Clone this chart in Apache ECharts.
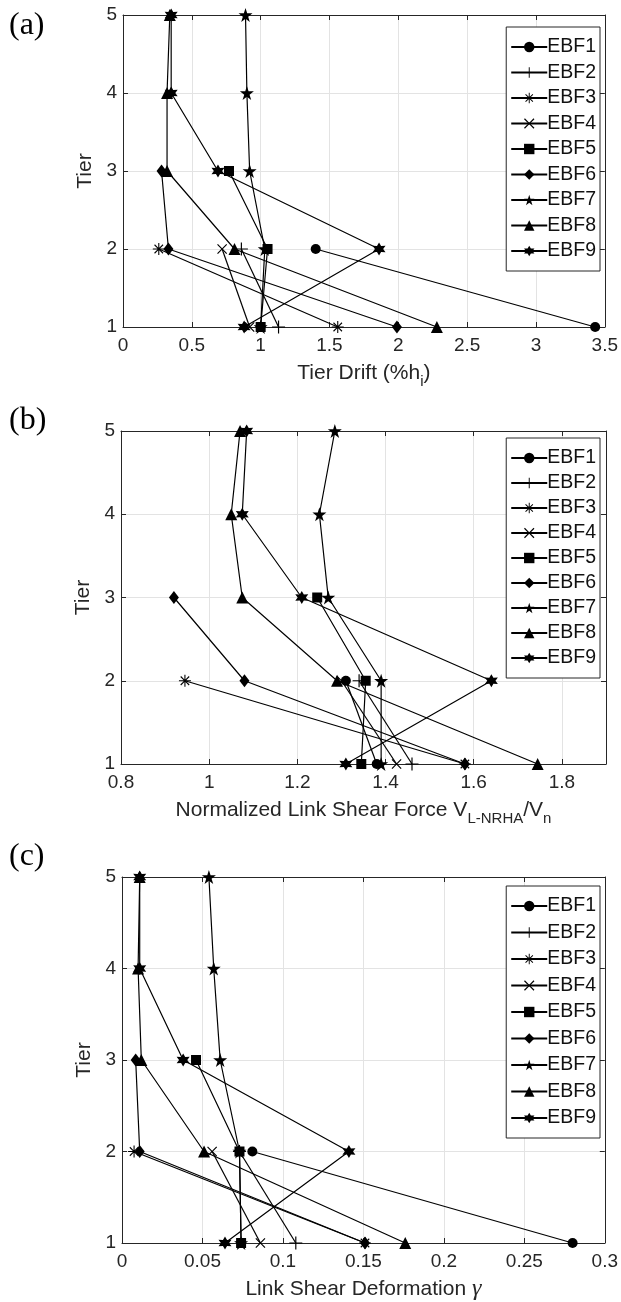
<!DOCTYPE html>
<html>
<head>
<meta charset="utf-8">
<script src="https://cdn.jsdelivr.net/npm/echarts@6/dist/echarts.min.js"></script>
<style>
  html, body { margin: 0; padding: 0; background: #fff; }
  #chart { width: 621px; height: 1302px; }
</style>
</head>
<body>
<div id="chart"></div>
<script>
// frames and tiers
const names = ['EBF1', 'EBF2', 'EBF3', 'EBF4', 'EBF5', 'EBF6', 'EBF7', 'EBF8', 'EBF9'];
const tiers = [1, 2, 3, 4, 5];

// values listed from tier 1 upward, one list per frame
const tierDrift = [
  [3.43, 1.40],
  [1.13, 0.86],
  [1.56, 0.26],
  [0.92, 0.72],
  [1.00, 1.05, 0.77],
  [1.99, 0.33, 0.28],
  [1.00, 1.03, 0.92, 0.90, 0.89],
  [2.28, 0.81, 0.32, 0.32, 0.34],
  [0.88, 1.86, 0.69, 0.35, 0.35]
];
const linkShearForce = [
  [1.38, 1.31],
  [1.46, 1.34],
  [1.58, 0.945],
  [1.425, 1.30],
  [1.345, 1.355, 1.245],
  [1.58, 1.08, 0.92],
  [1.39, 1.39, 1.27, 1.25, 1.285],
  [1.745, 1.29, 1.075, 1.05, 1.07],
  [1.31, 1.64, 1.21, 1.075, 1.085]
];
const linkShearDeform = [
  [0.28, 0.081],
  [0.108, 0.073],
  [0.151, 0.0075],
  [0.086, 0.056],
  [0.074, 0.073, 0.046],
  [0.151, 0.011, 0.0085],
  [0.074, 0.073, 0.061, 0.057, 0.054],
  [0.176, 0.051, 0.012, 0.010, 0.011],
  [0.064, 0.141, 0.038, 0.011, 0.011]
];

// x axis ranges
const xRanges = [
  { min: 0, max: 3.5, interval: 0.5 },
  { min: 0.8, max: 1.9, interval: 0.2 },
  { min: 0, max: 0.3, interval: 0.05 }
];

// marker shapes (matlab style o + * x s d p ^ h)
function poly(pts) {
  return 'M' + pts.map(p => p[0].toFixed(2) + ',' + p[1].toFixed(2)).join(' L') + ' Z';
}
function star(n, R, r) {
  const pts = [];
  for (let i = 0; i < 2 * n; i++) {
    const a = -Math.PI / 2 + i * Math.PI / n;
    const rr = i % 2 ? r : R;
    pts.push([rr * Math.cos(a), rr * Math.sin(a)]);
  }
  return poly(pts);
}
const t = 0.9;
const plusPts = [[-t,-10],[t,-10],[t,-t],[10,-t],[10,t],[t,t],[t,10],[-t,10],[-t,t],[-10,t],[-10,-t],[-t,-t]];
const rot = pts => pts.map(p => [(p[0] - p[1]) * Math.SQRT1_2, (p[0] + p[1]) * Math.SQRT1_2]);
const plusPath = poly(plusPts);
const xPath = poly(rot(plusPts));

const symbols = [
  { symbol: 'circle', size: 10 },
  { symbol: 'path://' + plusPath, size: 13 },
  { symbol: 'path://' + plusPath + ' ' + xPath, size: 12 },
  { symbol: 'path://' + xPath, size: 10 },
  { symbol: 'rect', size: 10 },
  { symbol: 'diamond', size: [10, 13] },
  { symbol: 'path://' + star(5, 10, 3.82), size: 14 },
  { symbol: 'triangle', size: 12 },
  { symbol: 'path://' + star(6, 10, 5.5), size: 13 }
];

const grids = [
  { left: 123, right: 16, top: 15, height: 312 },
  { left: 121, right: 15, top: 431, height: 333 },
  { left: 122, right: 16, top: 877, height: 374 }
];
const legendTops = [27, 438, 886];
const legendGaps = [5.5, 5, 6.5];

const textColor = '#262626';
const font = 'Liberation Sans';

const xNames = [
  '{n|Tier Drift (%h}{sub|i}{n|)}',
  '{n|Normalized Link Shear Force V}{sub|L-NRHA}{n|/V}{sub|n}',
  '{n|Link Shear Deformation }{g|γ}'
];
const richName = {
  n: { fontSize: 21, lineHeight: 32, color: textColor, fontFamily: font },
  sub: { fontSize: 15, lineHeight: 15, verticalAlign: 'bottom', color: textColor, fontFamily: font },
  g: { fontSize: 24, lineHeight: 32, color: textColor, fontFamily: 'Liberation Serif', fontStyle: 'italic' }
};

const xAxes = [];
const yAxes = [];
grids.forEach((g, p) => {
  xAxes.push({
    type: 'value', gridIndex: p, position: 'bottom',
    min: xRanges[p].min, max: xRanges[p].max, interval: xRanges[p].interval,
    name: xNames[p], nameLocation: 'middle', nameGap: 30,
    nameTextStyle: { rich: richName },
    axisLine: { show: true, onZero: false, lineStyle: { color: textColor, width: 1 } },
    axisTick: { show: true, inside: true, length: 5, lineStyle: { color: textColor } },
    axisLabel: { color: textColor, fontSize: 19, fontFamily: font, margin: 9, showMaxLabel: p !== 1 },
    splitLine: { show: true, lineStyle: { color: '#e3e3e3', width: 1 } }
  });
  xAxes.push({
    type: 'value', gridIndex: p, position: 'top',
    min: xRanges[p].min, max: xRanges[p].max, interval: xRanges[p].interval,
    axisLine: { show: true, onZero: false, lineStyle: { color: textColor, width: 1 } },
    axisTick: { show: true, inside: true, length: 5, lineStyle: { color: textColor } },
    axisLabel: { show: false },
    splitLine: { show: false }
  });
  yAxes.push({
    type: 'value', gridIndex: p, position: 'left',
    min: 1, max: 5, interval: 1,
    name: 'Tier', nameLocation: 'middle', nameGap: 21,
    nameTextStyle: { color: textColor, fontSize: 21, fontFamily: font },
    axisLine: { show: true, onZero: false, lineStyle: { color: textColor, width: 1 } },
    axisTick: { show: true, inside: true, length: 5, lineStyle: { color: textColor } },
    axisLabel: { color: textColor, fontSize: 19, fontFamily: font, margin: 6 },
    splitLine: { show: true, lineStyle: { color: '#e3e3e3', width: 1 } }
  });
  yAxes.push({
    type: 'value', gridIndex: p, position: 'right',
    min: 1, max: 5, interval: 1,
    axisLine: { show: true, onZero: false, lineStyle: { color: textColor, width: 1 } },
    axisTick: { show: true, inside: true, length: 5, lineStyle: { color: textColor } },
    axisLabel: { show: false },
    splitLine: { show: false }
  });
});

const panels = [tierDrift, linkShearForce, linkShearDeform];
const series = [];
panels.forEach((vals, p) => {
  vals.forEach((v, i) => {
    series.push({
      type: 'line',
      name: names[i],
      xAxisIndex: 2 * p,
      yAxisIndex: 2 * p,
      data: v.map((x, k) => [x, tiers[k]]),
      symbol: symbols[i].symbol,
      symbolSize: symbols[i].size,
      showSymbol: true,
      lineStyle: { color: '#000', width: 1.2 },
      itemStyle: { color: '#000' },
      emphasis: { disabled: true },
      animation: false
    });
  });
});

const legends = grids.map((g, p) => ({
  data: names,
  orient: 'vertical',
  right: 21,
  top: legendTops[p],
  itemWidth: 36,
  itemHeight: 13,
  itemGap: legendGaps[p],
  padding: [10, 4, 10, 4],
  borderColor: textColor,
  borderWidth: 1,
  backgroundColor: '#fff',
  selectedMode: false,
  textStyle: { color: '#111', fontSize: 19.5, fontFamily: font, padding: [0, 0, 0, -5] }
}));

const labels = [['(a)', 10], ['(b)', 405], ['(c)', 841]].map(([txt, y]) => ({
  type: 'text', left: 9, top: y,
  style: { text: txt, font: '32px "Liberation Serif"', fill: '#000' }
}));

const myChart = echarts.init(document.getElementById('chart'), null, { renderer: 'canvas' });
myChart.setOption({
  animation: false,
  grid: grids,
  xAxis: xAxes,
  yAxis: yAxes,
  legend: legends,
  series: series,
  graphic: labels
});
</script>
</body>
</html>
